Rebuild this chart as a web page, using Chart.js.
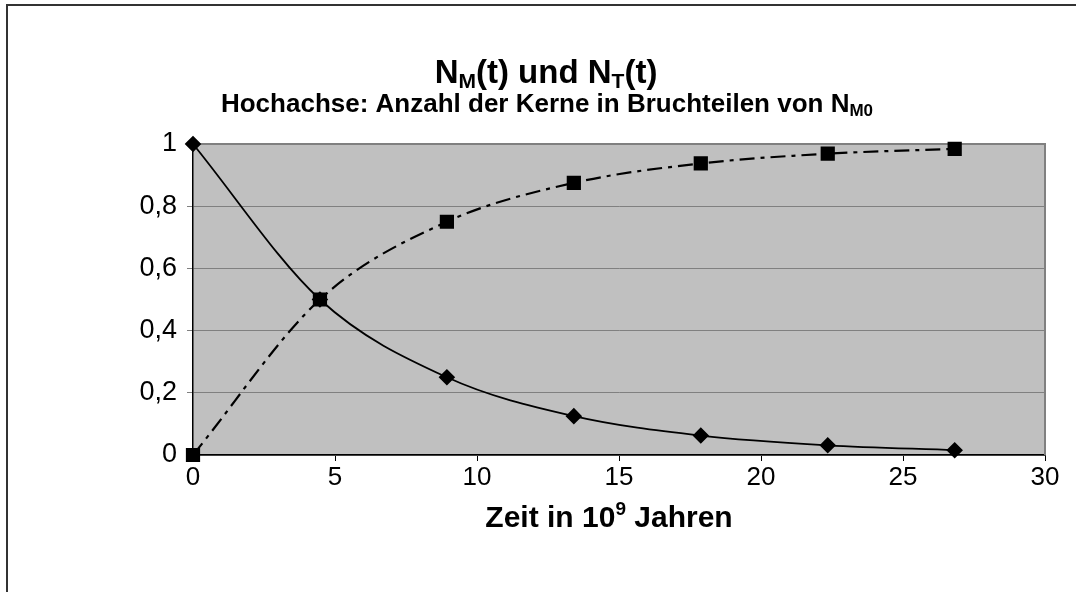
<!DOCTYPE html>
<html>
<head>
<meta charset="utf-8">
<script src="https://cdn.jsdelivr.net/npm/chart.js@4.4.1/dist/chart.umd.min.js"></script>
<style>
  html, body { margin: 0; padding: 0; background: #ffffff; }
  #wrap { width: 1076px; height: 592px; position: relative; }
</style>
</head>
<body>
<div id="wrap"><canvas id="c" width="1076" height="592"></canvas></div>
<script>
// ---- data ----
const timeValues = [0, 4.47, 8.94, 13.41, 17.88, 22.35, 26.82];
const nM = [1, 0.5, 0.25, 0.125, 0.0625, 0.03125, 0.0156];
const nT = [0, 0.5, 0.75, 0.875, 0.9375, 0.96875, 0.9844];
const xTicks = [0, 5, 10, 15, 20, 25, 30];
const yTicks = [0, 0.2, 0.4, 0.6, 0.8, 1];
// text pieces: [text, mode] where mode 0 = normal, 1 = subscript, 2 = superscript
const titleParts = [['N', 0], ['M', 1], ['(t) und N', 0], ['T', 1], ['(t)', 0]];
const subtitleParts = [['Hochachse: Anzahl der Kerne in Bruchteilen von N', 0], ['M0', 1]];
const xTitleParts = [['Zeit in 10', 0], ['9', 2], [' Jahren', 0]];

const FONT = '"Liberation Sans", Arial, Helvetica, sans-serif';

function toPoints(xs, ys) { return xs.map((x, i) => ({ x: x, y: ys[i] })); }

function drawRich(ctx, parts, cx, baseY, size, smallSize, subDrop, supRise) {
  let total = 0;
  const widths = parts.map(([t, mode]) => {
    ctx.font = 'bold ' + (mode ? smallSize : size) + 'px ' + FONT;
    const w = ctx.measureText(t).width;
    total += w;
    return w;
  });
  let x = cx - total / 2;
  ctx.textBaseline = 'alphabetic';
  ctx.textAlign = 'left';
  ctx.fillStyle = '#000';
  parts.forEach(([t, mode], i) => {
    ctx.font = 'bold ' + (mode ? smallSize : size) + 'px ' + FONT;
    const dy = mode === 1 ? subDrop : (mode === 2 ? -supRise : 0);
    ctx.fillText(t, x, baseY + dy);
    x += widths[i];
  });
}

const decor = {
  id: 'decor',
  beforeDraw(chart) {
    const { ctx, chartArea: a } = chart;
    ctx.save();
    ctx.fillStyle = '#c0c0c0';
    ctx.fillRect(a.left, a.top, a.right - a.left, a.bottom - a.top);
    // outer frame
    ctx.strokeStyle = '#333';
    ctx.lineWidth = 2;
    ctx.strokeRect(7, 5, 1200, 800);
    ctx.restore();
  },
  beforeDatasetsDraw(chart) {
    const { ctx, chartArea: a } = chart;
    ctx.save();
    ctx.strokeStyle = '#808080';
    ctx.lineWidth = 2;
    ctx.beginPath();
    ctx.moveTo(a.left, a.top);
    ctx.lineTo(a.right, a.top);
    ctx.lineTo(a.right, a.bottom);
    ctx.stroke();
    ctx.restore();
  },
  afterDraw(chart) {
    const ctx = chart.ctx;
    ctx.save();
    drawRich(ctx, titleParts, 546, 83, 33, 21, 5, 0);
    drawRich(ctx, subtitleParts, 547, 112, 26, 17, 4, 0);
    drawRich(ctx, xTitleParts, 609, 527, 30, 19, 0, 12);
    ctx.restore();
  }
};

new Chart(document.getElementById('c'), {
  type: 'scatter',
  data: {
    datasets: [
      {
        label: 'N_M(t)',
        data: toPoints(timeValues, nM),
        showLine: true,
        clip: false,
        borderColor: '#000',
        backgroundColor: '#000',
        borderWidth: 1.8,
        pointStyle: 'rectRot',
        pointRadius: 7,
        pointHoverRadius: 7,
        cubicInterpolationMode: 'monotone'
      },
      {
        label: 'N_T(t)',
        data: toPoints(timeValues, nT),
        showLine: true,
        clip: false,
        borderColor: '#000',
        backgroundColor: '#000',
        borderWidth: 2.2,
        borderDash: [15, 6, 4, 6],
        pointStyle: 'rect',
        pointRadius: 8.5,
        pointHoverRadius: 8.5,
        cubicInterpolationMode: 'monotone'
      }
    ]
  },
  options: {
    responsive: false,
    animation: false,
    layout: { padding: { left: 0, right: 31, top: 144, bottom: 0 } },
    plugins: {
      legend: { display: false },
      title: { display: false },
      tooltip: { enabled: false }
    },
    scales: {
      x: {
        type: 'linear',
        min: 0, max: 30,
        afterBuildTicks(scale) { scale.ticks = xTicks.map(v => ({ value: v })); },
        afterFit(scale) { scale.height = 137; },
        ticks: {
          color: '#000',
          font: { family: FONT, size: 26 },
          padding: 1,
          maxRotation: 0
        },
        grid: { drawOnChartArea: false, drawTicks: true, tickLength: 6, tickColor: '#000', tickWidth: 1 },
        border: { display: true, color: '#000', width: 1.5 }
      },
      y: {
        type: 'linear',
        min: 0, max: 1,
        afterBuildTicks(scale) { scale.ticks = yTicks.map(v => ({ value: v })); },
        afterFit(scale) { scale.width = 193; },
        ticks: {
          color: '#000',
          font: { family: FONT, size: 27 },
          padding: 10,
          callback: (v) => String(Math.round(v * 10) / 10).replace('.', ',')
        },
        grid: { color: '#808080', lineWidth: 1, drawTicks: true, tickLength: 6, tickColor: '#808080' },
        border: { display: true, color: '#000', width: 1.5 }
      }
    }
  },
  plugins: [decor]
});
</script>
</body>
</html>
